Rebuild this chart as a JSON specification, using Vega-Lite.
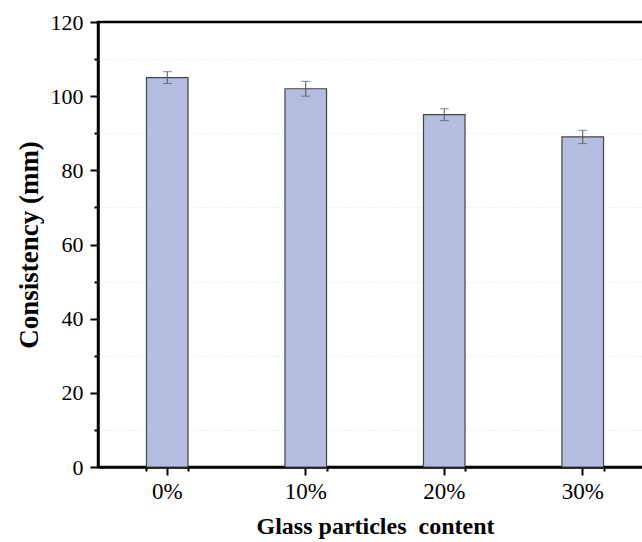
{
  "$schema": "https://vega.github.io/schema/vega-lite/v6.json",
  "autosize": "none",
  "padding": {"left": 98, "top": 22, "right": 0, "bottom": 75},
  "width": 554,
  "height": 445,
  "background": "white",
  "config": {
    "view": {"stroke": "black", "strokeWidth": 2.5},
    "font": "Liberation Serif"
  },
  "data": {
    "values": [
      {"content": "0%", "value": 105, "err": 1.6},
      {"content": "10%", "value": 102, "err": 2.0},
      {"content": "20%", "value": 95, "err": 1.6},
      {"content": "30%", "value": 89, "err": 1.8}
    ]
  },
  "layer": [
    {
      "mark": {"type": "bar", "fill": "#b4bde0", "stroke": "#444444", "strokeWidth": 1.2},
      "encoding": {
        "x": {
          "field": "content", "type": "nominal", "sort": null,
          "scale": {"paddingInner": 0.7, "paddingOuter": 0.35},
          "axis": {
            "title": "Glass particles\u00a0 content",
            "titleFont": "Liberation Serif", "titleFontSize": 24, "titleFontWeight": "bold", "titleColor": "black",
            "titlePadding": 11,
            "labelFont": "Liberation Serif", "labelFontSize": 23, "labelColor": "black", "labelPadding": 5, "labelAngle": 0,
            "domainColor": "black", "domainWidth": 2.5,
            "tickColor": "black", "tickWidth": 2, "tickSize": 8,
            "grid": false
          }
        },
        "y": {
          "field": "value", "type": "quantitative",
          "scale": {"domain": [0, 120], "nice": false},
          "axis": {
            "title": "Consistency (mm)",
            "titleFont": "Liberation Serif", "titleFontSize": 27, "titleFontWeight": "bold", "titleColor": "black",
            "titlePadding": 7,
            "values": [0, 20, 40, 60, 80, 100, 120],
            "labelFont": "Liberation Serif", "labelFontSize": 22, "labelColor": "black", "labelPadding": 7,
            "domainColor": "black", "domainWidth": 2.5,
            "tickColor": "black", "tickWidth": 2, "tickSize": 8,
            "grid": false
          }
        }
      }
    },
    {
      "mark": {"type": "errorbar", "ticks": {"size": 9, "thickness": 1, "color": "#555555"}, "rule": {"color": "#555555", "strokeWidth": 1}},
      "encoding": {
        "x": {
          "field": "content", "type": "nominal", "sort": null,
          "axis": {
            "orient": "bottom", "title": null, "labels": false, "domain": false,
            "tickBand": "extent", "tickColor": "black", "tickWidth": 2, "tickSize": 4, "grid": false
          }
        },
        "y": {
          "field": "value", "type": "quantitative",
          "axis": {
            "orient": "left", "title": null, "labels": false, "domain": false,
            "values": [10, 30, 50, 70, 90, 110],
            "tickColor": "black", "tickWidth": 2, "tickSize": 4,
            "grid": true, "gridColor": "#e4e4e4", "gridDash": [1, 2], "gridWidth": 1
          }
        },
        "yError": {"field": "err"}
      }
    }
  ],
  "resolve": {"axis": {"x": "independent", "y": "independent"}}
}
